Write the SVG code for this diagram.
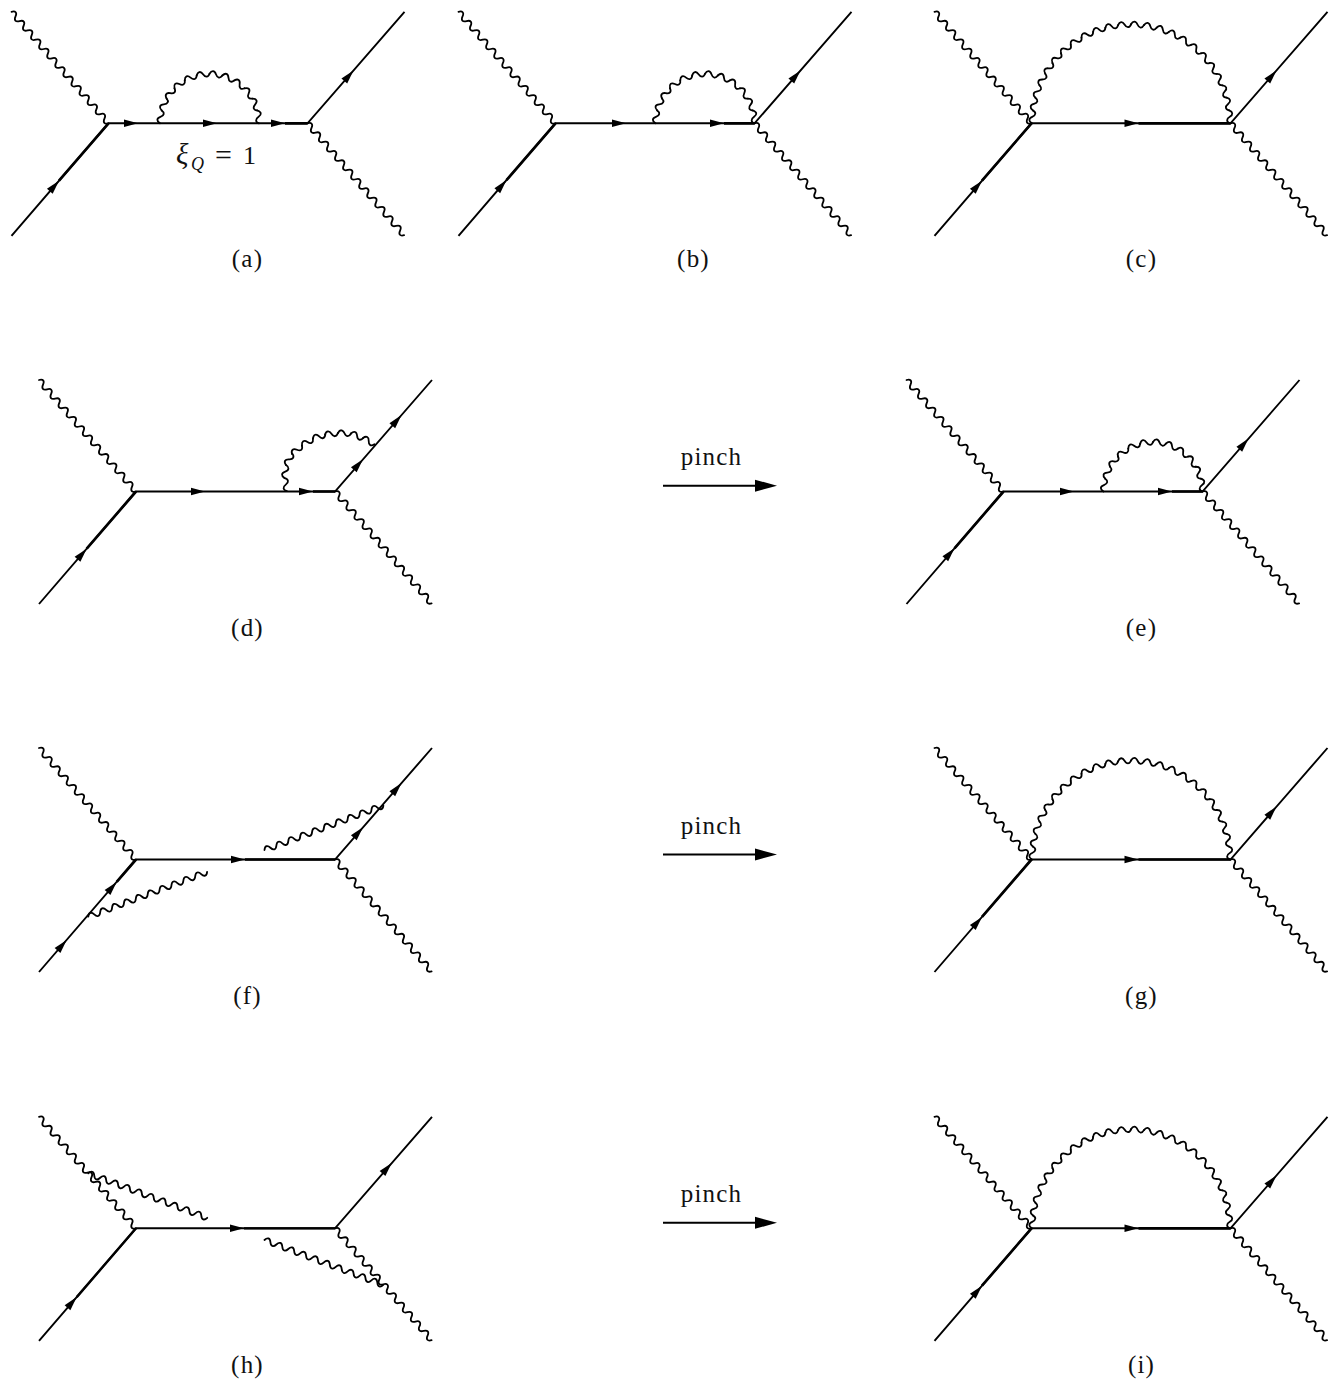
<svg xmlns="http://www.w3.org/2000/svg" width="1329" height="1385" viewBox="0 0 1329 1385">
<style>
.w{fill:none;stroke:#000;stroke-width:1.8;stroke-linejoin:round;stroke-linecap:round}
.l{fill:none;stroke:#000;stroke-width:1.9}
.th{fill:none;stroke:#000;stroke-width:2.7}
.t{font-family:"Liberation Serif","Times New Roman",serif;font-size:25px;letter-spacing:1.2px;fill:#111;text-anchor:middle}
.m{font-family:"Liberation Serif","Times New Roman",serif;font-size:26px;fill:#111}
.i{font-style:italic}
</style>
<defs>
<path id="ah" d="M0 0L-14 -3.8L-14 3.8Z"/>
<path id="big" d="M0 0L-22 -6L-22 6Z"/>
<path id="wl" class="w" d="M0 0c1.7 -3.8 4.46 -3.8 6.16 0s4.46 3.8 6.16 0s4.46 -3.8 6.16 0s4.46 3.8 6.16 0s4.46 -3.8 6.16 0s4.46 3.8 6.16 0s4.46 -3.8 6.16 0s4.46 3.8 6.16 0s4.46 -3.8 6.16 0s4.46 3.8 6.16 0s4.46 -3.8 6.16 0s4.46 3.8 6.16 0s4.46 -3.8 6.16 0s4.46 3.8 6.16 0s4.46 -3.8 6.16 0s4.46 3.8 6.16 0s4.46 -3.8 6.16 0s4.46 3.8 6.16 0s4.46 -3.8 6.16 0s4.46 3.8 6.16 0s4.46 -3.8 6.16 0s4.46 3.8 6.16 0s4.46 -3.8 6.16 0s4.46 3.8 6.16 0"/>
<path id="ws" class="w" d="M0 0c1.8 -3.8 4.55 -3.8 6.35 0s4.55 3.8 6.35 0s4.55 -3.8 6.35 0s4.55 3.8 6.35 0s4.55 -3.8 6.35 0s4.55 3.8 6.35 0s4.55 -3.8 6.35 0s4.55 3.8 6.35 0s4.55 -3.8 6.35 0s4.55 3.8 6.35 0s4.55 -3.8 6.35 0s4.55 3.8 6.35 0s4.55 -3.8 6.35 0s4.55 3.8 6.35 0s4.55 -3.8 6.35 0s4.55 3.8 6.35 0s4.55 -3.8 6.35 0s4.55 3.8 6.35 0s4.55 -3.8 6.35 0s4.55 3.8 6.35 0"/>
<path id="u" class="w" d="M0 0C1.8 -3.8 4.7 -3.8 6.5 0S11.2 3.8 13 0"/>
<path id="us" class="w" d="M-6.46 -49.07C-4.7 -53 -1.9 -53.2 0 -49.5C1.9 -45.8 4.7 -45.6 6.46 -49.07"/>
<path id="ul" class="w" d="M-6.47 -98.79C-4.7 -102.5 -1.9 -102.7 0 -99C1.9 -95.3 4.7 -95.1 6.47 -98.79"/>
<g id="arcS">
<use href="#us" transform="rotate(-82.5)"/><use href="#us" transform="rotate(-67.5)"/><use href="#us" transform="rotate(-52.5)"/><use href="#us" transform="rotate(-37.5)"/><use href="#us" transform="rotate(-22.5)"/><use href="#us" transform="rotate(-7.5)"/><use href="#us" transform="rotate(7.5)"/><use href="#us" transform="rotate(22.5)"/><use href="#us" transform="rotate(37.5)"/><use href="#us" transform="rotate(52.5)"/><use href="#us" transform="rotate(67.5)"/><use href="#us" transform="rotate(82.5)"/>
</g>
<g id="arcL">
<use href="#ul" transform="rotate(-86.25)"/><use href="#ul" transform="rotate(-78.75)"/><use href="#ul" transform="rotate(-71.25)"/><use href="#ul" transform="rotate(-63.75)"/><use href="#ul" transform="rotate(-56.25)"/><use href="#ul" transform="rotate(-48.75)"/><use href="#ul" transform="rotate(-41.25)"/><use href="#ul" transform="rotate(-33.75)"/><use href="#ul" transform="rotate(-26.25)"/><use href="#ul" transform="rotate(-18.75)"/><use href="#ul" transform="rotate(-11.25)"/><use href="#ul" transform="rotate(-3.75)"/><use href="#ul" transform="rotate(3.75)"/><use href="#ul" transform="rotate(11.25)"/><use href="#ul" transform="rotate(18.75)"/><use href="#ul" transform="rotate(26.25)"/><use href="#ul" transform="rotate(33.75)"/><use href="#ul" transform="rotate(41.25)"/><use href="#ul" transform="rotate(48.75)"/><use href="#ul" transform="rotate(56.25)"/><use href="#ul" transform="rotate(63.75)"/><use href="#ul" transform="rotate(71.25)"/><use href="#ul" transform="rotate(78.75)"/><use href="#ul" transform="rotate(86.25)"/>
</g>
<g id="legs">
<use href="#wl" transform="translate(-97,-111.5) rotate(49)"/>
<use href="#wl" transform="translate(199,0) rotate(49.2)"/>
<path class="l" d="M-97 112.5L0 0H199L296 -111.5"/>
</g>
<g id="full">
<use href="#legs"/>
<use href="#arcL" transform="translate(99.5,0)"/>
<use href="#ah" transform="translate(107,0)"/>
<use href="#ah" transform="translate(-49.5,57.4) rotate(-49)"/>
<use href="#ah" transform="translate(245,-52.9) rotate(-49)"/>
<path class="th" d="M-49.5 57.4L0 0M107 0H199"/>
</g>
<g id="smallRight">
<use href="#legs"/>
<use href="#arcS" transform="translate(149.5,0)"/>
<use href="#ah" transform="translate(70.5,0)"/>
<use href="#ah" transform="translate(168.5,0)"/>
<use href="#ah" transform="translate(-49,56.8) rotate(-49)"/>
<use href="#ah" transform="translate(245,-52.9) rotate(-49)"/>
<path class="th" d="M-49 56.8L0 0M168.5 0H199"/>
</g>
</defs>

<g id="panel-a">
<g transform="translate(108.5,123.3)">
<use href="#legs"/>
<use href="#arcS" transform="translate(101,0)"/>
<use href="#ah" transform="translate(29.5,0)"/>
<use href="#ah" transform="translate(108.5,0)"/>
<use href="#ah" transform="translate(176.5,0)"/>
<use href="#ah" transform="translate(-49.5,57.4) rotate(-49)"/>
<use href="#ah" transform="translate(245,-52.9) rotate(-49)"/>
<path class="th" d="M-49.5 57.4L0 0M176.5 0H199"/>
</g>
<text class="m"><tspan class="i" x="176" y="164" font-size="29">ξ</tspan><tspan class="i" x="191" y="170" font-size="18">Q</tspan><tspan x="215" y="165" font-size="30">=</tspan><tspan x="243" y="164">1</tspan></text>
<text class="t" x="247.5" y="267">(a)</text>
</g>

<g id="panel-b">
<use href="#smallRight" transform="translate(555.5,123.3)"/>
<text class="t" x="693.5" y="267">(b)</text>
</g>

<g id="panel-c">
<use href="#full" transform="translate(1031.5,123.3)"/>
<text class="t" x="1141.5" y="267">(c)</text>
</g>

<g id="panel-d">
<g transform="translate(136,491.5)">
<use href="#legs"/>
<use href="#ah" transform="translate(69,0)"/>
<use href="#ah" transform="translate(177,0)"/>
<use href="#ah" transform="translate(-49.3,57.2) rotate(-49)"/>
<use href="#ah" transform="translate(265.5,-76.4) rotate(-49)"/>
<use href="#ah" transform="translate(227,-32.2) rotate(-49)"/>
<path class="th" d="M-49.3 57.2L0 0M177 0H199"/>
<g id="d-loop" transform="translate(-136,-491.5)">
<use href="#u" transform="translate(287,491) rotate(-100.9)"/>
<use href="#u" transform="translate(284.5,478) rotate(-83.4)"/>
<use href="#u" transform="translate(286,465) rotate(-61.4)"/>
<use href="#u" transform="translate(292,454) rotate(-40.4)"/>
<use href="#u" transform="translate(302,445.5) rotate(-32.5)"/>
<use href="#u" transform="translate(313,438.5) rotate(-18.4)"/>
<use href="#u" transform="translate(325,434.5) rotate(-6.6)"/>
<use href="#u" transform="translate(338,433) rotate(2.2)"/>
<use href="#u" transform="translate(351,433.5) rotate(20.6)"/>
<use href="#u" transform="translate(363,438) rotate(28.3)"/>
</g>
</g>
<text class="t" x="247.5" y="636">(d)</text>
</g>

<g id="panel-e">
<use href="#smallRight" transform="translate(1003.5,491.5)"/>
<text class="t" x="1141.5" y="636">(e)</text>
</g>

<g id="panel-f">
<g transform="translate(136,859.5)">
<use href="#legs"/>
<use href="#ah" transform="translate(109,0)"/>
<use href="#ah" transform="translate(-19.3,22.4) rotate(-49)"/>
<use href="#ah" transform="translate(-69.3,80.4) rotate(-49)"/>
<use href="#ah" transform="translate(265.5,-76.4) rotate(-49)"/>
<use href="#ah" transform="translate(227,-32.2) rotate(-49)"/>
<path class="th" d="M-19.3 22.4L0 0M109 0H199"/>
</g>
<use href="#ws" transform="translate(88.3,916.7) rotate(-20.7)"/>
<use href="#ws" transform="translate(264.5,850) rotate(-20.6)"/>
<text class="t" x="247.5" y="1004">(f)</text>
</g>

<g id="panel-g">
<use href="#full" transform="translate(1031.5,859.5)"/>
<text class="t" x="1141.5" y="1004">(g)</text>
</g>

<g id="panel-h">
<g transform="translate(136,1228.3)">
<use href="#legs"/>
<use href="#ah" transform="translate(108,0)"/>
<use href="#ah" transform="translate(-59.3,68.8) rotate(-49)"/>
<use href="#ah" transform="translate(255.7,-65.4) rotate(-49)"/>
<path class="th" d="M-59.3 68.8L0 0" style="stroke-width:2.4"/>
<path class="l" d="M108 0H199" style="stroke-width:2.2"/>
</g>
<use href="#ws" transform="translate(88.3,1173.3) rotate(20.5)"/>
<use href="#ws" transform="translate(264.5,1240) rotate(20.7)"/>
<text class="t" x="247.5" y="1373">(h)</text>
</g>

<g id="panel-i">
<use href="#full" transform="translate(1031.5,1228.3)"/>
<text class="t" x="1141.5" y="1373">(i)</text>
</g>

<g id="connectors">
<path class="l" style="stroke-width:1.9" d="M663 485.7H760M663 854.5H760M663 1222.8H760"/>
<use href="#big" transform="translate(777,485.7)"/>
<use href="#big" transform="translate(777,854.5)"/>
<use href="#big" transform="translate(777,1222.8)"/>
<text class="t" x="711.5" y="465">pinch</text>
<text class="t" x="711.5" y="834">pinch</text>
<text class="t" x="711.5" y="1202">pinch</text>
</g>
</svg>
